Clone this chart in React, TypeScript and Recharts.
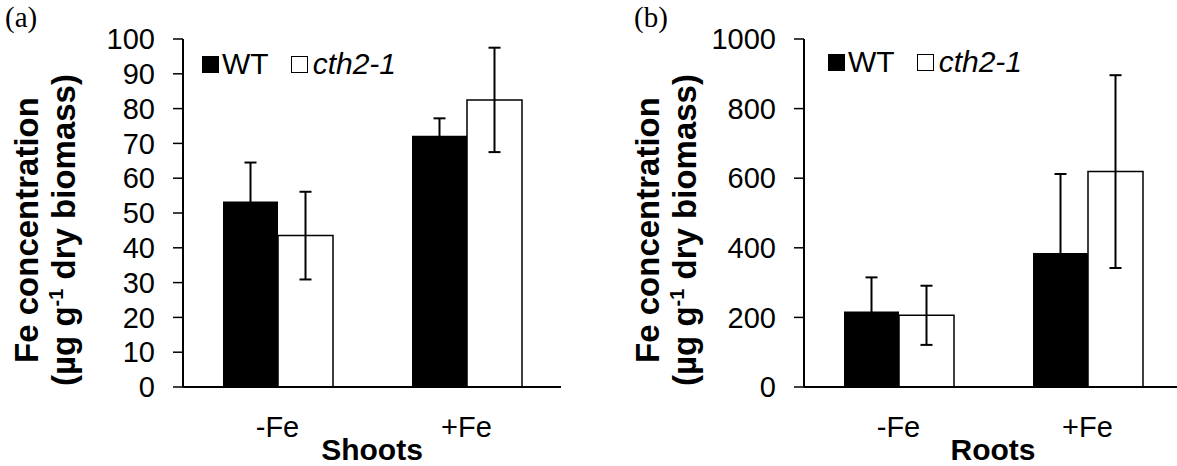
import { BarChart, Bar, XAxis, YAxis, ErrorBar, Legend } from "recharts";

// values
const CONDITIONS = ["-Fe", "+Fe"];

const SHOOT_WT = [53.3, 72.2];
const SHOOT_WT_ERR = [11.2, 5.0];
const SHOOT_CTH = [43.5, 82.5];
const SHOOT_CTH_ERR = [12.6, 15.0];
const SHOOT_TICKS = [0, 10, 20, 30, 40, 50, 60, 70, 80, 90, 100];

const ROOT_WT = [217, 385];
const ROOT_WT_ERR = [98, 227];
const ROOT_CTH = [206, 619];
const ROOT_CTH_ERR = [85, 277];
const ROOT_TICKS = [0, 200, 400, 600, 800, 1000];

const FONT = "'Liberation Sans', Arial, sans-serif";
const SERIF = "'Liberation Serif', 'Times New Roman', serif";

const buildRows = (wt: number[], wtErr: number[], cth: number[], cthErr: number[]) =>
  CONDITIONS.map((cond, i) => ({
    cond,
    wt: wt[i],
    wtErr: wtErr[i],
    cth: cth[i],
    cthErr: cthErr[i],
  }));

const YTitle = (_: any) => {
  const cy = 230;
  return (
    <g fontFamily={FONT} fontSize={33} fontWeight="bold" fill="#000">
      <text x={38} y={cy} transform={`rotate(-90 38 ${cy})`} textAnchor="middle">
        Fe concentration
      </text>
      <text x={75} y={cy} transform={`rotate(-90 75 ${cy})`} textAnchor="middle">
        (µg g
        <tspan dy={-12} fontSize={20}>
          -1
        </tspan>
        <tspan dy={12}> dry biomass)</tspan>
      </text>
    </g>
  );
};

const XTitle = ({ text }: { text: string }) => (
  <text x={372} y={460} textAnchor="middle" fontFamily={FONT} fontSize={30} fontWeight="bold" fill="#000">
    {text}
  </text>
);

const LegendBox = () => (
  <div
    style={{
      display: "flex",
      alignItems: "center",
      fontFamily: FONT,
      fontSize: 30,
      lineHeight: "30px",
      color: "#000",
      whiteSpace: "nowrap",
    }}
  >
    <span style={{ display: "inline-block", width: 17, height: 17, background: "#000" }} />
    <span style={{ marginLeft: 3 }}>WT</span>
    <span
      style={{
        display: "inline-block",
        width: 17,
        height: 17,
        boxSizing: "border-box",
        border: "1.5px solid #000",
        background: "#fff",
        marginLeft: 22,
      }}
    />
    <span style={{ marginLeft: 5, fontStyle: "italic" }}>cth2-1</span>
  </div>
);

interface PanelProps {
  letter: string;
  letterX: number;
  title: string;
  rows: ReturnType<typeof buildRows>;
  ticks: number[];
  offset: number;
  legendX: number;
  legendY: number;
}

const Panel = ({ letter, letterX, title, rows, ticks, offset, legendX, legendY }: PanelProps) => (
  <div style={{ position: "absolute", left: offset, top: 0, width: 600, height: 466 }}>
    <div
      style={{
        position: "absolute",
        left: letterX,
        top: 3,
        fontFamily: SERIF,
        fontSize: 29,
        lineHeight: "29px",
        color: "#000",
        zIndex: 2,
      }}
    >
      {letter}
    </div>
    <BarChart
      width={600}
      height={466}
      data={rows}
      margin={{ top: 39, right: 39, bottom: 0, left: 0 }}
      barSize={55}
      barGap={0}
    >
      <XAxis
        dataKey="cond"
        height={79}
        tickLine={false}
        tickSize={0}
        tickMargin={29}
        axisLine={{ stroke: "#000", strokeWidth: 2 }}
        tick={{ fill: "#000", fontSize: 29, fontFamily: FONT }}
        label={<XTitle text={title} />}
      />
      <XAxis
        xAxisId="top"
        dataKey="cond"
        orientation="top"
        height={0}
        tick={false}
        tickLine={false}
        axisLine={{ stroke: "#000", strokeWidth: 1.5 }}
      />
      <YAxis
        width={183}
        domain={[ticks[0], ticks[ticks.length - 1]]}
        ticks={ticks}
        interval={0}
        tickSize={10}
        tickMargin={18}
        axisLine={{ stroke: "#000", strokeWidth: 2 }}
        tickLine={{ stroke: "#000", strokeWidth: 1.5 }}
        tick={{ fill: "#000", fontSize: 29, fontFamily: FONT }}
        label={<YTitle />}
      />
      <YAxis
        yAxisId="right"
        orientation="right"
        width={0}
        tick={false}
        tickLine={false}
        axisLine={{ stroke: "#000", strokeWidth: 1.5 }}
      />
      <Legend
        layout="vertical"
        align="center"
        verticalAlign="middle"
        content={<LegendBox />}
        wrapperStyle={{ left: legendX, top: legendY, width: "auto" }}
      />
      <Bar dataKey="wt" name="WT" fill="#000" isAnimationActive={false}>
        <ErrorBar dataKey="wtErr" width={6} stroke="#000" strokeWidth={2} direction="y" />
      </Bar>
      <Bar dataKey="cth" name="cth2-1" fill="#fff" stroke="#000" strokeWidth={1.5} isAnimationActive={false}>
        <ErrorBar dataKey="cthErr" width={6} stroke="#000" strokeWidth={2} direction="y" />
      </Bar>
    </BarChart>
  </div>
);

export default function App() {
  const shoots = buildRows(SHOOT_WT, SHOOT_WT_ERR, SHOOT_CTH, SHOOT_CTH_ERR);
  const roots = buildRows(ROOT_WT, ROOT_WT_ERR, ROOT_CTH, ROOT_CTH_ERR);
  return (
    <div
      style={{
        position: "absolute",
        left: 0,
        top: 0,
        width: 1177,
        height: 466,
        overflow: "hidden",
        background: "#fff",
      }}
    >
      <Panel letter="(a)" letterX={5} title="Shoots" rows={shoots} ticks={SHOOT_TICKS} offset={0} legendX={202} legendY={49} />
      <Panel letter="(b)" letterX={13} title="Roots" rows={roots} ticks={ROOT_TICKS} offset={621} legendX={207} legendY={47} />
    </div>
  );
}
